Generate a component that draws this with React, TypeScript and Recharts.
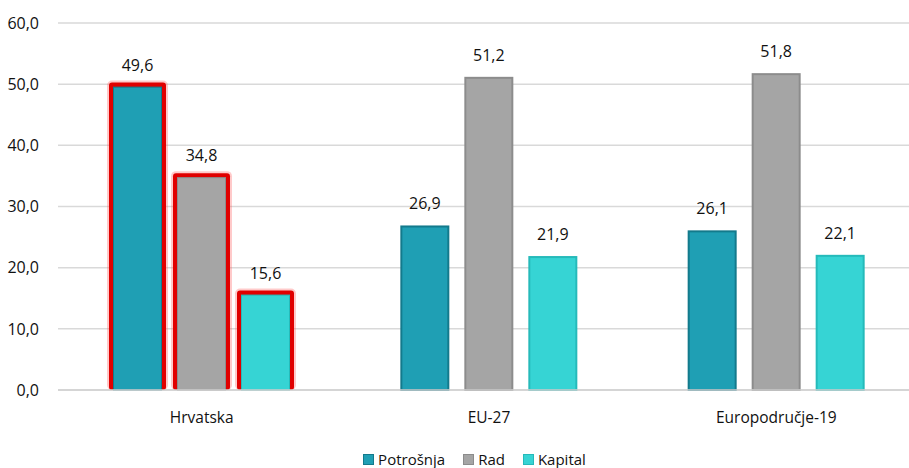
import { BarChart, Bar, XAxis, YAxis, CartesianGrid, LabelList } from "recharts";

// Categories and series
const categories = ["Hrvatska", "EU-27", "Europodručje-19"];
const potrosnja = [49.6, 26.9, 26.1];
const rad = [34.8, 51.2, 51.8];
const kapital = [15.6, 21.9, 22.1];
const yTicks = [0, 10, 20, 30, 40, 50, 60];

const data = categories.map((name, i) => ({
  name,
  potrosnja: potrosnja[i],
  rad: rad[i],
  kapital: kapital[i],
}));

const SERIES = [
  { key: "potrosnja", name: "Potrošnja", fill: "#1f9fb4", stroke: "#137a8c" },
  { key: "rad", name: "Rad", fill: "#a5a5a5", stroke: "#8c8c8c" },
  { key: "kapital", name: "Kapital", fill: "#36d4d4", stroke: "#25baba" },
];

const HIGHLIGHT = "Hrvatska";
const FONT = "'Open Sans', 'Noto Sans', sans-serif";
const fmt = (v: number) => v.toFixed(1).replace(".", ",");

// Bar with an optional red glowing outline for the highlighted category
function OutlinedBar(props: any) {
  const { x, y, width, height, fill, stroke, payload } = props;
  if (height == null || height <= 0) return null;
  if (payload && payload.name === HIGHLIGHT) {
    return (
      <g>
        <rect x={x - 6} y={y - 6} width={width + 12} height={height + 6} rx={5} fill="#ff5050" opacity={0.3} />
        <rect x={x - 4} y={y - 4} width={width + 8} height={height + 4} rx={3} fill="#e00000" />
        <rect x={x + 0.5} y={y + 0.5} width={width - 1} height={height - 0.5} fill={fill} stroke={stroke} strokeWidth={1} />
      </g>
    );
  }
  return <rect x={x + 1} y={y + 1} width={width - 2} height={height - 1} fill={fill} stroke={stroke} strokeWidth={2} />;
}

const labelStyle = { fill: "#111", fontSize: 16, fontFamily: FONT };

export default function App() {
  return (
    <div style={{ position: "fixed", left: 0, top: 0, width: 909, height: 468, overflow: "hidden", background: "#fff" }}>
      <BarChart
        width={940}
        height={430}
        data={data}
        margin={{ top: 23, right: 20, bottom: 0, left: 0 }}
        barSize={49}
        barGap={15}
      >
        <CartesianGrid vertical={false} stroke="#d9d9d9" strokeWidth={1.5} />
        <XAxis
          dataKey="name"
          tickLine={false}
          axisLine={{ stroke: "#d0d0d0", strokeWidth: 1.5 }}
          tick={{ fill: "#111", fontSize: 15.5, fontFamily: FONT }}
          tickMargin={16}
          height={40}
        />
        <YAxis
          domain={[0, 60]}
          ticks={yTicks}
          tickFormatter={fmt}
          axisLine={false}
          tickLine={false}
          width={58}
          tickMargin={13}
          tick={{ fill: "#111", fontSize: 16, fontFamily: FONT }}
        />
        {SERIES.map((s) => (
          <Bar key={s.key} dataKey={s.key} name={s.name} fill={s.fill} stroke={s.stroke} shape={<OutlinedBar />} isAnimationActive={false}>
            <LabelList dataKey={s.key} position="top" offset={16} formatter={(v: any) => fmt(Number(v))} style={labelStyle} />
          </Bar>
        ))}
      </BarChart>
      <div style={{ height: 38, paddingTop: 20, boxSizing: "border-box", display: "flex", justifyContent: "center", gap: 18, fontFamily: FONT, fontSize: 15, color: "#111", lineHeight: "18px", marginLeft: 40 }}>
        {SERIES.map((s) => (
          <span key={s.key} style={{ display: "flex", alignItems: "center", gap: 4 }}>
            <span style={{ width: 9, height: 9, background: s.fill, border: `1px solid ${s.stroke}`, display: "inline-block" }} />
            {s.name}
          </span>
        ))}
      </div>
    </div>
  );
}
